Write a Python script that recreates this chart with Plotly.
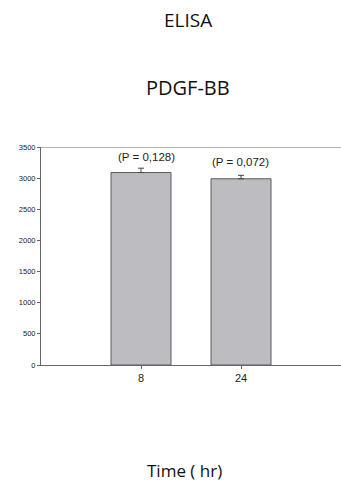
import plotly.graph_objects as go

categories = ["8", "24"]
values = [3090, 2990]
errors = [70, 55]
p_labels = ["(P = 0,128)", "(P = 0,072)"]
y_ticks = [0, 500, 1000, 1500, 2000, 2500, 3000, 3500]

fig = go.Figure()
fig.add_trace(go.Bar(
    x=[0, 1], y=values, width=0.6,
    marker=dict(color="#bdbdc1", line=dict(color="#5a5a5a", width=1)),
    error_y=dict(type="data", symmetric=False, array=errors, arrayminus=[0, 0],
                 color="#444", thickness=1, width=3),
    showlegend=False,
))

for i, t in enumerate(p_labels):
    fig.add_annotation(x=i + (0.05 if i == 0 else -0.01), y=[3345, 3265][i], text=t, showarrow=False,
                       yanchor="middle",
                       font=dict(family="Liberation Sans, Arial", size=11.5, color="#222"))

fig.add_annotation(xref="paper", yref="paper", x=0.49, y=1.583, text="ELISA", showarrow=False,
                   yanchor="middle",
                   font=dict(family="Open Sans, Lato, sans-serif", size=19, color="#111"))
fig.add_annotation(xref="paper", yref="paper", x=0.49, y=1.271, text="PDGF-BB", showarrow=False,
                   yanchor="middle",
                   font=dict(family="Open Sans, Lato, sans-serif", size=20, color="#111"))
fig.add_annotation(xref="paper", yref="paper", x=0.477, y=-0.482, text="Time ( hr)", showarrow=False,
                   yanchor="middle",
                   font=dict(family="Open Sans, Lato, sans-serif", size=17, color="#111"))

fig.add_shape(type="line", xref="paper", yref="y", x0=0, x1=1.2, y0=3500, y1=3500,
              line=dict(color="#666", width=1))

fig.update_xaxes(range=[-1, 2], tickvals=[0, 1], ticktext=categories,
                 showline=True, linecolor="#666", linewidth=1,
                 ticks="outside", ticklen=3, tickcolor="#666", showgrid=False, zeroline=False,
                 tickfont=dict(family="Liberation Sans, Arial", size=11, color="#222"))
fig.update_yaxes(range=[0, 3500], tickvals=y_ticks,
                 showline=True, linecolor="#666", linewidth=1,
                 ticks="outside", ticklen=3, tickcolor="#666", showgrid=False, zeroline=False,
                 tickfont=dict(family="Liberation Sans, Arial", size=7.5, color="#222"))

fig.update_layout(width=341, height=489, margin=dict(l=41, r=0, t=147, b=124),
                  plot_bgcolor="white", paper_bgcolor="white")
fig.write_html("out.html", config={"displayModeBar": False})

with open("out.html", "r", encoding="utf-8") as f:
    html = f.read()
html = html.replace("<head>", "<head><style>html,body{margin:0;padding:0;overflow:hidden}</style>", 1)
with open("out.html", "w", encoding="utf-8") as f:
    f.write(html)
